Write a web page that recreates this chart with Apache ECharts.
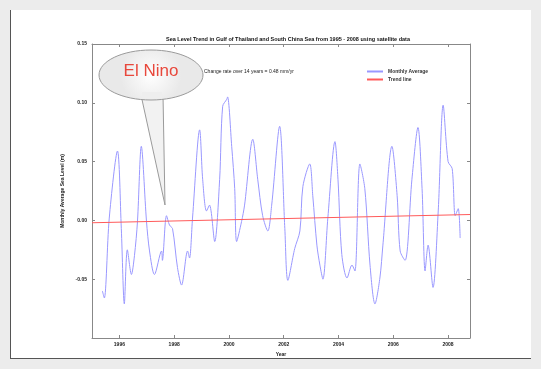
<!DOCTYPE html>
<html>
<head>
<meta charset="utf-8">
<script src="https://cdn.jsdelivr.net/npm/echarts@6/dist/echarts.min.js"></script>
<style>
  html, body { margin: 0; padding: 0; background: #ececec; }
  #frame { position: absolute; left: 10px; top: 10px; width: 520px; height: 348px; background: #fff; border-left: 1px solid #555; border-bottom: 1px solid #555; }
  #chart { position: absolute; left: 0; top: 0; width: 541px; height: 369px; }
</style>
</head>
<body>
<div id="frame"></div>
<div id="chart"></div>
<script>
// decimal year of each traced sample and monthly average sea level (m)
const years = [
  1995.38, 1995.45, 1995.63, 1995.93, 1996.07, 1996.18, 1996.29, 1996.44, 1996.55, 1996.66,
  1996.80, 1996.99, 1997.10, 1997.28, 1997.54, 1997.57, 1997.72, 1997.83, 1997.94, 1998.12,
  1998.27, 1998.49, 1998.56, 1998.67, 1998.93, 1999.04, 1999.18, 1999.29, 1999.48, 1999.66,
  1999.77, 1999.92, 1999.95, 2000.10, 2000.21, 2000.28, 2000.46, 2000.57, 2000.87, 2001.05,
  2001.23, 2001.42, 2001.56, 2001.85, 2002.04, 2002.15, 2002.40, 2002.59, 2002.70, 2002.95,
  2003.06, 2003.21, 2003.32, 2003.43, 2003.61, 2003.87, 2003.98, 2004.12, 2004.31, 2004.49,
  2004.60, 2004.78, 2004.96, 2005.15, 2005.33, 2005.51, 2005.62, 2005.95, 2006.14, 2006.25,
  2006.43, 2006.68, 2006.90, 2007.05, 2007.16, 2007.27, 2007.45, 2007.64, 2007.82, 2008.00,
  2008.15, 2008.26, 2008.37, 2008.44
];
const seaLevel = [
  -0.060, -0.066, 0.002, 0.059, -0.007, -0.071, -0.025, -0.046, -0.030, -0.001,
  0.063, -0.001, -0.026, -0.046, -0.026, -0.034, 0.004, -0.004, -0.007, -0.040,
  -0.055, -0.026, -0.032, 0.002, 0.077, 0.035, 0.008, 0.013, -0.018, 0.035,
  0.097, 0.103, 0.105, 0.063, 0.027, -0.018, -0.001, 0.013, 0.069, 0.035,
  0.004, -0.009, 0.013, 0.080, -0.007, -0.051, -0.024, -0.009, 0.029, 0.048,
  0.021, -0.021, -0.038, -0.050, 0.002, 0.067, 0.035, -0.029, -0.049, -0.038,
  -0.043, 0.048, 0.027, -0.038, -0.071, -0.049, -0.021, 0.063, 0.021, -0.026,
  -0.034, 0.035, 0.079, 0.027, -0.043, -0.021, -0.057, 0.008, 0.098, 0.050,
  0.044, 0.004, 0.010, -0.015
];
const trendYears = [1995, 2008.8];
const trendLevel = [-0.002, 0.005];
const yearTicks = [1996, 1998, 2000, 2002, 2004, 2006, 2008];
const levelTicks = [-0.05, 0, 0.05, 0.1, 0.15];

const font = "'Liberation Sans', Arial, sans-serif";
const chart = echarts.init(document.getElementById("chart"));

const boxAxis = {
  axisLine: { show: true, onZero: false, lineStyle: { color: "#888", width: 1 } },
  axisTick: { show: true, inside: true, length: 3, lineStyle: { color: "#888" } },
  splitLine: { show: false },
};

chart.setOption({
  backgroundColor: "transparent",
  animation: false,
  title: {
    text: "Sea Level Trend in Gulf of Thailand and South China Sea from 1995 - 2008 using satellite data",
    left: 283,
    top: 31,
    textAlign: "center",
    textStyle: { fontFamily: font, fontSize: 5.5, fontWeight: "bold", color: "#111" },
  },
  legend: {
    left: 362,
    top: 64,
    orient: "vertical",
    itemWidth: 16,
    itemHeight: 2,
    itemGap: 3,
    icon: "rect",
    textStyle: { fontFamily: font, fontSize: 5, fontWeight: "bold", color: "#333" },
    data: ["Monthly Average", "Trend line"],
  },
  grid: { left: 92, top: 44, width: 378, height: 294 },
  xAxis: [
    {
      ...boxAxis,
      type: "value",
      min: 1995,
      max: 2008.8,
      name: "Year",
      nameLocation: "middle",
      nameGap: 12,
      nameTextStyle: { fontFamily: font, fontSize: 5, fontWeight: "bold", color: "#222" },
      axisTick: { ...boxAxis.axisTick, customValues: yearTicks },
      axisLabel: {
        customValues: yearTicks,
        fontFamily: font,
        fontSize: 5,
        fontWeight: "bold",
        color: "#222",
        margin: 4,
        formatter: (v) => String(v),
      },
    },
    {
      ...boxAxis,
      type: "value",
      position: "top",
      min: 1995,
      max: 2008.8,
      axisTick: { ...boxAxis.axisTick, customValues: yearTicks },
      axisLabel: { show: false },
    },
  ],
  yAxis: [
    {
      ...boxAxis,
      type: "value",
      min: -0.1,
      max: 0.15,
      name: "Monthly Average Sea Level (m)",
      nameLocation: "middle",
      nameGap: 24,
      nameTextStyle: { fontFamily: font, fontSize: 5, fontWeight: "bold", color: "#222" },
      axisTick: { ...boxAxis.axisTick, customValues: levelTicks },
      axisLabel: {
        customValues: levelTicks,
        fontFamily: font,
        fontSize: 5,
        fontWeight: "bold",
        color: "#222",
        margin: 5,
        formatter: (v) => v.toFixed(2),
      },
    },
    {
      ...boxAxis,
      type: "value",
      position: "right",
      min: -0.1,
      max: 0.15,
      axisTick: { ...boxAxis.axisTick, customValues: levelTicks },
      axisLabel: { show: false },
    },
  ],
  series: [
    {
      name: "Monthly Average",
      type: "line",
      data: years.map((y, i) => [y, seaLevel[i]]),
      symbol: "none",
      smooth: 0.3,
      lineStyle: { color: "#9a98ff", width: 1 },
      itemStyle: { color: "#9a98ff" },
      z: 3,
    },
    {
      name: "Trend line",
      type: "line",
      data: trendYears.map((y, i) => [y, trendLevel[i]]),
      symbol: "none",
      lineStyle: { color: "#ff5a5a", width: 1 },
      itemStyle: { color: "#ff5a5a" },
      z: 4,
    },
  ],
  graphic: [
    {
      type: "text",
      left: 204,
      top: 69,
      z: 20,
      style: { text: "Change rate over 14 years = 0.48 mm/yr", font: `5px ${font}`, fill: "#222" },
    },
    {
      type: "polygon",
      z: 10,
      shape: { points: [[141, 95], [163, 95], [165, 205]] },
      style: { fill: "#f2f2f2", stroke: "#9a9a9a", lineWidth: 1 },
    },
    {
      type: "ellipse",
      z: 11,
      shape: { cx: 151, cy: 75, rx: 52, ry: 25 },
      style: {
        fill: new echarts.graphic.RadialGradient(0.5, 0.5, 0.6, [
          { offset: 0, color: "#ffffff" },
          { offset: 1, color: "#e9e9e9" },
        ]),
        stroke: "#9a9a9a",
        lineWidth: 1,
      },
    },
    {
      type: "rect",
      z: 12,
      shape: { x: 142, y: 92, width: 20, height: 6 },
      style: { fill: "#eeeeee" },
    },
    {
      type: "text",
      z: 13,
      x: 151,
      y: 71,
      style: {
        text: "El Nino",
        font: `17px ${font}`,
        fill: "#e8483c",
        align: "center",
        verticalAlign: "middle",
      },
    },
  ],
});
</script>
</body>
</html>
